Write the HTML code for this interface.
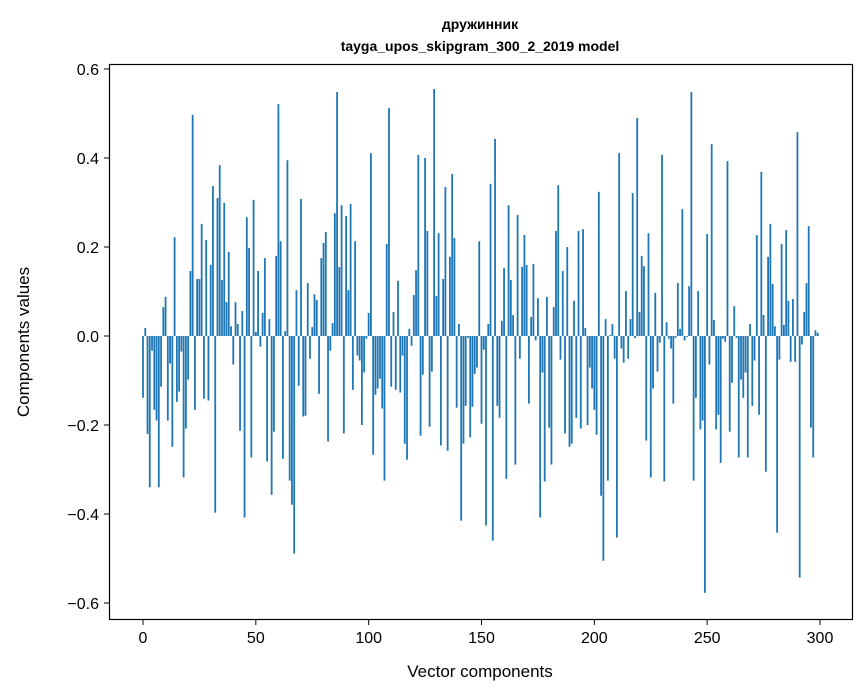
<!DOCTYPE html>
<html><head><meta charset="utf-8"><style>
body{margin:0;background:#fff}
svg{display:block;font-family:"Liberation Sans","DejaVu Sans",sans-serif}
</style></head><body>
<svg id="chart" width="867" height="696" viewBox="0 0 867 696">
<text x="480" y="29" text-anchor="middle" font-size="14" font-weight="bold">дружинник</text>
<text x="480" y="51" text-anchor="middle" font-size="14" font-weight="bold">tayga_upos_skipgram_300_2_2019 model</text>
<g id="bars"></g>
<rect x="109.5" y="64.5" width="743" height="555" fill="none" stroke="#000" stroke-width="1.2"/>
<g id="xticks"></g>
<g id="yticks"></g>
<text x="480" y="677" text-anchor="middle" font-size="17">Vector components</text>
<text transform="translate(29,342) rotate(-90)" text-anchor="middle" font-size="17">Components values</text>
</svg>
<script>
const values = [
-0.139,0.018,-0.22,-0.34,-0.033,-0.166,-0.19,-0.34,-0.114,0.065,
0.088,-0.19,-0.062,-0.249,0.222,-0.148,-0.125,-0.035,-0.318,-0.208,
-0.098,0.146,0.497,-0.166,0.128,0.128,0.252,-0.141,0.216,-0.145,
0.16,0.337,-0.397,0.31,0.384,0.126,0.299,0.076,0.189,0.022,
-0.064,0.076,0.027,-0.213,0.056,-0.408,0.267,0.198,-0.273,0.306,
0.009,0.146,-0.024,0.052,0.175,-0.282,0.038,-0.357,-0.215,0.18,
0.521,0.213,-0.276,0.011,0.395,-0.325,-0.379,-0.489,0.103,-0.112,
0.308,-0.181,-0.179,0.119,-0.051,0.02,0.094,0.081,-0.13,0.175,
0.209,0.234,-0.237,-0.033,0.029,0.276,0.548,0.155,0.294,-0.219,
0.27,0.103,0.297,-0.121,0.213,-0.044,-0.055,-0.2,-0.082,-0.006,
0.052,0.411,-0.267,-0.132,-0.118,-0.096,-0.163,-0.325,0.207,0.512,
-0.114,0.054,-0.121,0.124,-0.127,-0.044,-0.242,-0.278,0.016,-0.022,
0.092,0.148,0.407,-0.224,-0.087,0.4,0.236,-0.204,-0.08,0.555,
0.09,0.231,-0.246,0.128,0.335,-0.258,0.178,0.364,0.22,-0.161,
0.027,-0.415,-0.242,-0.157,-0.004,-0.228,-0.159,-0.085,-0.071,0.213,
-0.197,-0.031,-0.426,0.027,0.342,-0.46,0.443,-0.157,-0.184,0.034,
0.153,-0.321,0.294,0.126,0.047,-0.289,0.272,-0.051,0.155,0.227,
0.16,-0.152,0.043,0.162,-0.01,0.085,-0.408,-0.082,-0.327,0.088,
-0.206,-0.289,0.065,0.236,0.339,-0.053,0.146,-0.219,0.2,-0.249,
-0.242,0.079,-0.184,0.236,-0.208,0.24,0.018,-0.2,-0.071,-0.118,
-0.166,-0.222,0.324,-0.359,-0.505,0.038,-0.325,0.002,0.027,-0.051,
-0.453,0.411,-0.028,-0.06,0.101,-0.051,0.038,0.321,-0.005,0.49,
0.054,0.18,0.157,-0.235,0.231,-0.318,-0.118,0.097,-0.08,-0.015,
0.407,-0.327,0.031,-0.006,-0.028,-0.152,-0.004,0.119,0.016,0.285,
-0.01,-0.002,0.112,0.548,-0.325,-0.139,0.101,-0.21,-0.19,-0.577,
0.229,-0.064,0.431,0.036,-0.21,-0.177,-0.285,-0.006,-0.013,0.393,
-0.215,-0.105,0.067,-0.004,-0.273,-0.098,-0.139,-0.082,-0.273,0.027,
-0.157,-0.055,0.227,-0.177,0.369,0.047,-0.305,0.178,0.252,0.117,
0.022,-0.442,-0.053,0.207,0.025,0.238,0.079,-0.058,0.083,-0.058,
0.458,-0.543,-0.019,0.054,0.119,0.247,-0.206,-0.273,0.013,0.007
];
const xTickValues = [0,50,100,150,200,250,300];
const yTickValues = [-0.6,-0.4,-0.2,0.0,0.2,0.4,0.6];
const yTickLabels = ["\u22120.6","\u22120.4","\u22120.2","0.0","0.2","0.4","0.6"];

const NS="http://www.w3.org/2000/svg";
const xScale = v => 143 + v*(677/300);
const yScale = v => 336 - v*445;
const barW = 0.8*(677/300);
const gb=document.getElementById('bars');
values.forEach((v,i)=>{
  const r=document.createElementNS(NS,'rect');
  const y0=yScale(0), y1=yScale(v);
  r.setAttribute('x',xScale(i)-barW/2);
  r.setAttribute('y',Math.min(y0,y1));
  r.setAttribute('width',barW);
  r.setAttribute('height',Math.max(Math.abs(y1-y0),0.3));
  r.setAttribute('fill','#1f77b4');
  
  
  gb.appendChild(r);
});
const gx=document.getElementById('xticks');
xTickValues.forEach(t=>{
  const x=xScale(t);
  const l=document.createElementNS(NS,'line');
  l.setAttribute('x1',x);l.setAttribute('x2',x);l.setAttribute('y1',619.5);l.setAttribute('y2',625);
  l.setAttribute('stroke','#000');
  
  
  gx.appendChild(l);
  const tx=document.createElementNS(NS,'text');
  tx.setAttribute('x',x);tx.setAttribute('y',643);tx.setAttribute('text-anchor','middle');tx.setAttribute('font-size','16');
  tx.textContent=t;
  
  
  gx.appendChild(tx);
});
const gy=document.getElementById('yticks');
yTickValues.forEach((t,i)=>{
  const y=yScale(t);
  const l=document.createElementNS(NS,'line');
  l.setAttribute('x1',104);l.setAttribute('x2',109.5);l.setAttribute('y1',y);l.setAttribute('y2',y);
  l.setAttribute('stroke','#000');
  
  
  gy.appendChild(l);
  const tx=document.createElementNS(NS,'text');
  tx.setAttribute('x',99);tx.setAttribute('y',y+6);tx.setAttribute('text-anchor','end');tx.setAttribute('font-size','16');
  tx.textContent=yTickLabels[i];
  
  
  gy.appendChild(tx);
});
</script>
</body></html>
